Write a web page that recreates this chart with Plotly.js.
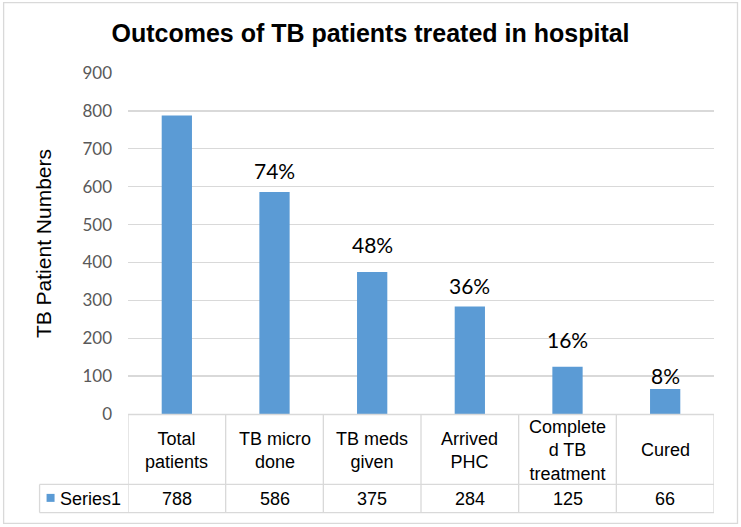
<!DOCTYPE html>
<html>
<head>
<meta charset="utf-8">
<script src="https://cdn.plot.ly/plotly-3.0.1.min.js"></script>
<style>html,body{margin:0;padding:0;background:#fff;}#chart{width:741px;height:527px;}</style>
</head>
<body>
<div id="chart"></div>
<script>
// ---- data ----
const categories = ["Total patients", "TB micro done", "TB meds given", "Arrived PHC", "Completed TB treatment", "Cured"];
const headerLabels = ["Total<br>patients", "TB micro<br>done", "TB meds<br>given", "Arrived<br>PHC", "Complete<br>d TB<br>treatment", "Cured"];
const values = [788, 586, 375, 284, 125, 66];
const pctLabels = ["", "74%", "48%", "36%", "16%", "8%"];
const seriesName = "Series1";
const yTickVals = [0, 100, 200, 300, 400, 500, 600, 700, 800, 900];

// ---- layout constants (pixels) ----
const W = 741, H = 527;
const plotL = 127.5, plotR = 714, plotT = 73, plotB = 414.5;
const pw = plotR - plotL, ph = plotB - plotT;
const px2x = p => (p - plotL) / pw;
const py2y = p => (plotB - p) / ph;
const labelShift = [0, 21, 27, 21, 27, 13];

const blue = "#5B9BD5";
const lineCol = "#d9d9d9";
const txtFont = "Liberation Sans, Arial, sans-serif";
const numFont = "Lato, Open Sans, sans-serif";

const trace = {
  type: "bar",
  x: categories,
  y: values,
  name: seriesName,
  marker: {color: blue},
  hoverinfo: "skip"
};

const shapes = [];
const annotations = [];

// outer frame
shapes.push({type: "rect", xref: "paper", yref: "paper",
  x0: px2x(3), x1: px2x(737.5), y0: py2y(524), y1: py2y(2.5),
  line: {color: lineCol, width: 1.3}, fillcolor: "rgba(0,0,0,0)", layer: "below"});

// data table
const rowTop = 415, rowMid = 485, rowBot = 513.3, legL = 39;
shapes.push({type: "line", xref: "paper", yref: "paper", x0: 0, x1: 1, y0: py2y(rowTop), y1: py2y(rowTop), line: {color: lineCol, width: 1.3}});
shapes.push({type: "line", xref: "paper", yref: "paper", x0: px2x(legL), x1: 1, y0: py2y(rowMid), y1: py2y(rowMid), line: {color: lineCol, width: 1.3}});
shapes.push({type: "line", xref: "paper", yref: "paper", x0: px2x(legL), x1: 1, y0: py2y(rowBot), y1: py2y(rowBot), line: {color: lineCol, width: 1.3}});
shapes.push({type: "line", xref: "paper", yref: "paper", x0: px2x(legL), x1: px2x(legL), y0: py2y(rowMid), y1: py2y(rowBot), line: {color: lineCol, width: 1.3}});
for (let i = 0; i <= categories.length; i++) {
  shapes.push({type: "line", xref: "x", yref: "paper", x0: i - 0.5, x1: i - 0.5, y0: py2y(rowTop), y1: py2y(rowBot), line: {color: lineCol, width: 1.3}});
}
// legend key
shapes.push({type: "rect", xref: "paper", yref: "paper", x0: px2x(46), x1: px2x(54), y0: py2y(502.5), y1: py2y(494.5), line: {width: 0}, fillcolor: blue});
annotations.push({xref: "paper", yref: "paper", x: px2x(57), y: py2y((rowMid + rowBot) / 2), text: seriesName,
  showarrow: false, xanchor: "left", yanchor: "middle", font: {family: txtFont, size: 18, color: "#000"}});

categories.forEach((c, i) => {
  annotations.push({xref: "x", yref: "paper", x: c, y: py2y((rowTop + rowMid) / 2 + 1), text: headerLabels[i],
    showarrow: false, xanchor: "center", yanchor: "middle", font: {family: txtFont, size: 18, color: "#000"}});
  annotations.push({xref: "x", yref: "paper", x: c, y: py2y((rowMid + rowBot) / 2), text: String(values[i]),
    showarrow: false, xanchor: "center", yanchor: "middle", font: {family: txtFont, size: 18, color: "#000"}});
  if (pctLabels[i]) {
    annotations.push({xref: "x", yref: "y", x: c, y: values[i], yshift: labelShift[i], text: pctLabels[i],
      showarrow: false, xanchor: "center", yanchor: "middle", font: {family: numFont, size: 21, color: "#000"}});
  }
});

// y axis title
annotations.push({xref: "paper", yref: "paper", x: px2x(43), y: 0.5, text: "TB Patient Numbers", textangle: -90,
  showarrow: false, xanchor: "center", yanchor: "middle", font: {family: txtFont, size: 21, color: "#000"}});

const layout = {
  width: W, height: H,
  margin: {l: plotL, r: W - plotR, t: plotT, b: H - plotB, pad: 0},
  paper_bgcolor: "#fff", plot_bgcolor: "#fff",
  showlegend: false,
  bargap: 0.69,
  title: {text: "<b>Outcomes of TB patients treated in hospital</b>", x: 0.5, xref: "container", xanchor: "center",
    y: 1 - 33 / H, yref: "container", yanchor: "middle", font: {family: txtFont, size: 25, color: "#000"}},
  xaxis: {type: "category", range: [-0.5, categories.length - 0.5], showticklabels: false, showgrid: false,
    zeroline: false, showline: false, ticks: "", fixedrange: true},
  yaxis: {range: [0, 900], tickvals: yTickVals, ticktext: yTickVals.map(String), showgrid: true, gridcolor: lineCol, gridwidth: 1.3,
    zeroline: false, showline: false, ticks: "", ticklabelstandoff: 15,
    tickfont: {family: numFont, size: 17, color: "#595959"}, fixedrange: true},
  shapes: shapes,
  annotations: annotations
};

Plotly.newPlot("chart", [trace], layout, {displayModeBar: false, staticPlot: true});
</script>
</body>
</html>
